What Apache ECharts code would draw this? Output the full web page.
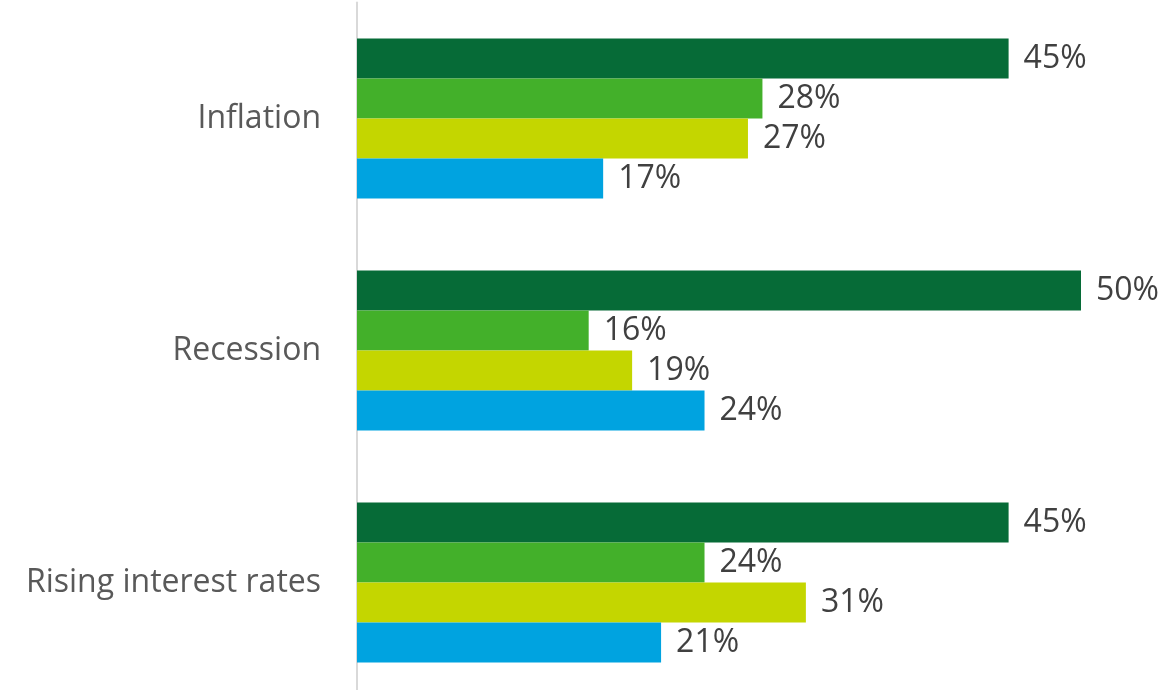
<!DOCTYPE html>
<html>
<head>
<meta charset="utf-8">
<script src="https://cdn.jsdelivr.net/npm/echarts@6/dist/echarts.min.js"></script>
<style>
  html, body { margin: 0; padding: 0; background: #ffffff; overflow: hidden; }
  /* canvas runs a little past the bottom edge so the lowest group keeps its full band */
  #chart { width: 1176px; height: 700px; }
</style>
</head>
<body>
<div id="chart"></div>
<script>
// Concerns, one group of bars per category (top to bottom)
var categories = ['Inflation', 'Recession', 'Rising interest rates'];

// Share of respondents (%) for each of the four groups
var groupA = [45, 50, 45];
var groupB = [28, 16, 24];
var groupC = [27, 19, 31];
var groupD = [17, 24, 21];

var seriesNames = ['Group A', 'Group B', 'Group C', 'Group D'];
var seriesValues = [groupA, groupB, groupC, groupD];
var seriesColors = ['#066b37', '#43b02a', '#c4d600', '#00a3e0'];

var FONT = '"Open Sans", "Liberation Sans", sans-serif';

var chart = echarts.init(document.getElementById('chart'), null, { renderer: 'canvas' });

var series = seriesValues.map(function (vals, i) {
  return {
    name: seriesNames[i],
    type: 'bar',
    data: vals,
    barWidth: 40,
    barGap: '0%',
    itemStyle: { color: seriesColors[i] },
    label: {
      show: true,
      position: 'right',
      distance: 15,
      formatter: '{c}%',
      fontFamily: FONT,
      fontSize: 32,
      color: '#404040'
    },
    emphasis: { disabled: true }
  };
});

chart.setOption({
  animation: false,
  backgroundColor: '#ffffff',
  grid: { left: 357, top: 2.5, width: 724, height: 696, containLabel: false },
  xAxis: {
    type: 'value',
    min: 0,
    max: 50,
    show: false,
    splitLine: { show: false }
  },
  yAxis: {
    type: 'category',
    data: categories,
    inverse: true,
    axisLine: { show: true, lineStyle: { color: '#d9d9d9', width: 2 } },
    axisTick: { show: false },
    axisLabel: {
      margin: 36,
      fontFamily: FONT,
      fontSize: 32,
      color: '#595959'
    },
    splitLine: { show: false }
  },
  series: series
});
</script>
</body>
</html>
